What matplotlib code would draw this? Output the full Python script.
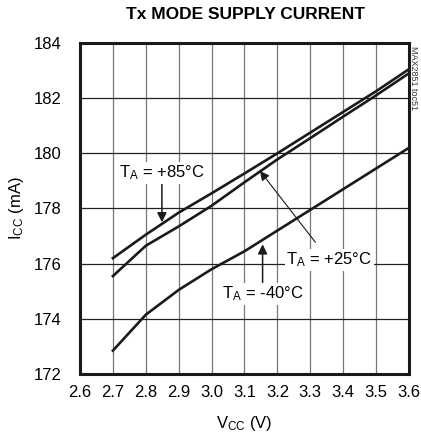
import matplotlib.pyplot as plt

plt.rcParams['font.family'] = ['Liberation Sans', 'DejaVu Sans']
plt.rcParams['mathtext.default'] = 'regular'

# supply voltage (V)
vcc = [2.7, 2.8, 2.9, 3.0, 3.1, 3.2, 3.3, 3.4, 3.5, 3.6]
# supply current (mA) per temperature
icc_85 = [176.2, 177.05, 177.85, 178.55, 179.27, 180.0, 180.75, 181.5, 182.25, 183.05]
icc_25 = [175.55, 176.65, 177.35, 178.1, 178.95, 179.78, 180.55, 181.33, 182.1, 182.9]
icc_m40 = [172.85, 174.15, 175.05, 175.8, 176.45, 177.2, 177.95, 178.7, 179.45, 180.2]

xticks = [2.6, 2.7, 2.8, 2.9, 3.0, 3.1, 3.2, 3.3, 3.4, 3.5, 3.6]
yticks = [172, 174, 176, 178, 180, 182, 184]

fig = plt.figure(figsize=(4.21, 4.38), dpi=100)
ax = fig.add_axes([0.190, 0.146, 0.7815, 0.756])

for y in (icc_85, icc_25, icc_m40):
    ax.plot(vcc, y, color='#1a1a1a', lw=1.9, zorder=3)

ax.set_xlim(2.6, 3.6)
ax.set_ylim(172, 184)
ax.set_xticks(xticks)
ax.set_xticklabels(['%.1f' % v for v in xticks])
ax.set_yticks(yticks)
ax.tick_params(axis='both', length=0, labelsize=12)
ax.tick_params(axis='y', pad=13)
ax.tick_params(axis='x', pad=8)

# grid: vertical lighter, horizontal darker
for v in xticks[1:-1]:
    ax.axvline(v, color='#777777', lw=0.9, zorder=1)
for v in yticks[1:-1]:
    ax.axhline(v, color='#222222', lw=0.9, zorder=1)

for s in ax.spines.values():
    s.set_linewidth(2.2)
    s.set_color('#1a1a1a')
    s.set_zorder(4)

ax.set_xlabel(r'V$_{CC}$ (V)', fontsize=12, labelpad=10)
ax.set_ylabel(r'I$_{CC}$ (mA)', fontsize=12, labelpad=6)
fig.text(0.582, 0.966, 'Tx MODE SUPPLY CURRENT', fontsize=12.5, fontweight='bold',
         ha='center', va='center')
fig.text(0.982, 0.822, 'MAX2851 toc51', fontsize=6.5, rotation=270,
         ha='center', va='center', color='#333333')

bbox = dict(boxstyle='square,pad=0.1', fc='white', ec='none')
arrow = dict(arrowstyle='-|>', color='#1a1a1a', lw=1.1, mutation_scale=14,
             shrinkA=0, shrinkB=0)

ax.annotate(r'T$_A$ = +85°C', xy=(2.849, 177.5), xytext=(2.849, 178.95),
            fontsize=12, ha='center', va='bottom', bbox=bbox,
            arrowprops=arrow, zorder=5)
ax.annotate(r'T$_A$ = +25°C', xy=(3.147, 179.36), xytext=(3.357, 176.14),
            fontsize=12, ha='center', va='center', bbox=bbox,
            arrowprops=dict(arrowstyle='-|>', color='#1a1a1a', lw=0.8,
                            mutation_scale=14, shrinkA=6, shrinkB=0), zorder=5)
ax.annotate(r'T$_A$ = -40°C', xy=(3.155, 176.7), xytext=(3.155, 175.25),
            fontsize=12, ha='center', va='top', bbox=bbox,
            arrowprops=arrow, zorder=5)

fig.savefig('out.png', dpi=100)
